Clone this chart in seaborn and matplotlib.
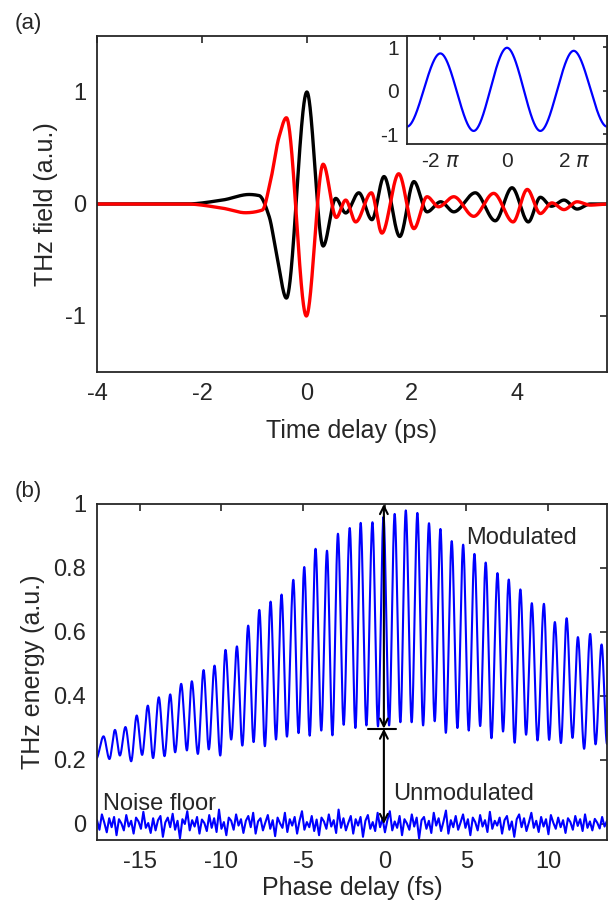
import numpy as np
import pandas as pd
import seaborn as sns
from matplotlib import pyplot as plt

sns.set_style("white")
plt.rcParams['font.family'] = ['Liberation Sans', 'DejaVu Sans']
plt.rcParams['axes.unicode_minus'] = False

FS = 17        # tick size
LFS = 18       # axis label size
GRAY = '#262626'

# ---- panel (a): THz field waveforms, extrema (ps, a.u.)
black_t = [-4.0, -2.3, -1.6, -1.1, -0.91, -0.72, -0.57, -0.39, 0.0, 0.31, 0.55, 0.74,
           0.99, 1.24, 1.47, 1.77, 2.04, 2.29, 2.55, 2.80, 3.21, 3.59, 3.91, 4.22,
           4.45, 4.66, 4.90, 5.15, 5.40, 5.72]
black_v = [0.0, 0.0, 0.036, 0.085, 0.075, -0.11, -0.47, -0.84, 1.0, -0.375, 0.05, -0.08,
           0.10, -0.14, 0.245, -0.29, 0.20, -0.07, 0.02, -0.07, 0.10, -0.15, 0.145, -0.16,
           0.06, -0.02, 0.035, -0.045, 0.0, 0.0]

red_t = [-4.0, -2.3, -1.6, -1.17, -0.85, -0.69, -0.53, -0.39, -0.01, 0.31, 0.56, 0.74,
         0.93, 1.23, 1.43, 1.75, 2.04, 2.29, 2.51, 2.80, 3.18, 3.56, 3.93, 4.20,
         4.45, 4.67, 4.90, 5.15, 5.40, 5.72]
red_v = [0.0, 0.0, -0.038, -0.078, -0.054, 0.214, 0.60, 0.77, -1.0, 0.355, -0.12, 0.035,
         -0.16, 0.10, -0.26, 0.27, -0.22, 0.065, -0.025, 0.065, -0.11, 0.095, -0.16, 0.13,
         -0.085, 0.01, -0.05, 0.02, -0.01, 0.0]

# inset: extrema, x in units of pi
inset_x = [-3, -2, -1, 0, 1, 2, 3]
inset_y = [-0.82, 0.86, -0.92, 0.99, -0.92, 0.92, -0.82]

# ---- panel (b): modulated THz energy, peaks and troughs (fs, a.u.)
peak_t = [-17.2, -16.5, -15.86, -15.17, -14.49, -13.82, -13.12, -12.45, -11.8, -11.08,
          -10.41, -9.74, -9.04, -8.35, -7.67, -6.98, -6.31, -5.59, -4.92, -4.23,
          -3.53, -2.86, -2.14, -1.47, -0.75, -0.07, 0.61, 1.29, 2.0, 2.71,
          3.41, 4.1, 4.8, 5.49, 6.18, 6.9, 7.59, 8.3, 9.0, 9.74,
          10.41, 11.13, 11.82, 12.57, 13.27]
peak_v = [0.274, 0.294, 0.303, 0.339, 0.370, 0.396, 0.405, 0.438, 0.446, 0.481,
          0.495, 0.544, 0.555, 0.62, 0.669, 0.695, 0.717, 0.763, 0.803, 0.86,
          0.854, 0.907, 0.925, 0.941, 0.943, 0.96, 0.969, 0.98, 0.972, 0.94,
          0.922, 0.884, 0.873, 0.844, 0.817, 0.784, 0.764, 0.733, 0.69, 0.688,
          0.631, 0.643, 0.584, 0.594, 0.561]
trough_t = [-17.65, -16.84, -16.2, -15.51, -14.84, -14.17, -13.47, -12.82, -12.1, -11.43,
            -10.76, -10.06, -9.39, -8.71, -8.02, -7.33, -6.65, -5.98, -5.27, -4.59,
            -3.88, -3.2, -2.51, -1.79, -1.12, -0.41, 0.27, 0.96, 1.65, 2.35,
            3.06, 3.74, 4.45, 5.14, 5.84, 6.53, 7.24, 7.95, 8.65, 9.35,
            10.06, 10.78, 11.49, 12.2, 12.9, 13.6]
trough_v = [0.204, 0.203, 0.214, 0.196, 0.216, 0.206, 0.212, 0.224, 0.23, 0.219,
            0.233, 0.214, 0.264, 0.245, 0.256, 0.243, 0.264, 0.273, 0.284, 0.276,
            0.292, 0.277, 0.31, 0.30, 0.308, 0.305, 0.308, 0.318, 0.318, 0.308,
            0.321, 0.285, 0.30, 0.292, 0.306, 0.268, 0.289, 0.254, 0.279, 0.261,
            0.263, 0.253, 0.269, 0.235, 0.249, 0.25]

noise_v = [
    0.012, -0.018, 0.030, 0.004, -0.026, 0.018, -0.010, 0.022, -0.035, 0.015, 0.002, -0.020, 0.028, -0.008, 0.010,
    -0.030, 0.020, 0.008, -0.015, 0.038, -0.012, 0.003, -0.028, 0.018, -0.020, 0.012, 0.025, -0.040, 0.005, 0.020,
    -0.010, 0.032, -0.018, 0.010, -0.045, 0.015, 0.000, 0.040, -0.020, 0.012, -0.008, 0.022, -0.030, 0.014, 0.003,
    -0.022, 0.028, -0.012, 0.018, -0.025, 0.045, -0.015, 0.006, -0.035, 0.020, 0.010, -0.018, 0.030, -0.005, 0.015,
    -0.028, 0.010, 0.025, -0.010, 0.035, -0.030, 0.008, 0.018, -0.020, 0.005, 0.028, -0.015, 0.012, -0.038, 0.020,
    0.002, -0.012, 0.035, -0.025, 0.015, -0.005, 0.022, -0.030, 0.010, 0.040, -0.018, 0.006, -0.010, 0.025, -0.022,
    0.014, -0.035, 0.020, 0.008, -0.015, 0.030, -0.008, 0.012, -0.028, 0.045, -0.012, 0.018, -0.020, 0.004, 0.025,
    -0.030, 0.015, -0.005, 0.022, -0.040, 0.010, 0.028, -0.015, 0.006, -0.022, 0.035, -0.010, 0.018, -0.026, 0.012,
    0.040, -0.020, 0.008, -0.012, 0.025, -0.035, 0.015, 0.002, -0.018, 0.030, -0.008, 0.020, -0.045, 0.012, 0.022,
    -0.015, 0.010, -0.028, 0.035, -0.005, 0.018, -0.022, 0.008, 0.042, -0.030, 0.012, -0.010, 0.025, -0.018, 0.005,
    0.030, -0.012, 0.015, -0.035, 0.020, 0.006, -0.020, 0.028, -0.008, 0.012, -0.025, 0.038, -0.015, 0.010, -0.005,
    0.020, -0.030, 0.012, 0.025, -0.018, 0.008, -0.040, 0.015, 0.030, -0.010, 0.018, -0.022, 0.005, 0.035, -0.012,
    0.010, -0.025, 0.022, -0.008, 0.015, -0.032, 0.028, 0.004, -0.015, 0.020, -0.010, 0.012, -0.028, 0.018, 0.006,
    -0.018, 0.025, -0.006, 0.015, -0.022, 0.030, -0.012, 0.008, -0.020, 0.016, 0.004, -0.014, 0.022, -0.008, 0.010,
]


def pchip(xk, yk, n=3000):
    # monotone cubic through the read points, just to draw a smooth line
    xk = np.asarray(xk, float); yk = np.asarray(yk, float)
    h = np.diff(xk); d = np.diff(yk) / h
    m = np.zeros_like(yk)
    for i in range(1, len(xk) - 1):
        if d[i - 1] * d[i] > 0:
            w1 = 2 * h[i] + h[i - 1]; w2 = h[i] + 2 * h[i - 1]
            m[i] = (w1 + w2) / (w1 / d[i - 1] + w2 / d[i])
    x = np.linspace(xk[0], xk[-1], n)
    k = np.clip(np.searchsorted(xk, x) - 1, 0, len(h) - 1)
    s = (x - xk[k]) / h[k]
    h00 = 2 * s**3 - 3 * s**2 + 1; h10 = s**3 - 2 * s**2 + s
    h01 = -2 * s**3 + 3 * s**2; h11 = s**3 - s**2
    y = h00 * yk[k] + h10 * h[k] * m[k] + h01 * yk[k + 1] + h11 * h[k] * m[k + 1]
    return x, y


def style(ax, fs=FS, pad=8):
    for sp in ax.spines.values():
        sp.set_visible(True); sp.set_color(GRAY); sp.set_linewidth(1.3)
    ax.tick_params(direction='in', top=True, right=True, length=5, width=1.2,
                   labelsize=fs, colors=GRAY, labelcolor=GRAY, pad=pad)


fig = plt.figure(figsize=(6.13, 9.09), dpi=100)

# ---------------- panel (a)
ax1 = fig.add_axes([97 / 613, 1 - 372 / 909, 510 / 613, 336 / 909])
bx, by = pchip(black_t, black_v)
rx, ry = pchip(red_t, red_v)
sns.lineplot(x=bx, y=by, ax=ax1, color='black', lw=2.4)
sns.lineplot(x=rx, y=ry, ax=ax1, color='red', lw=2.4)
ax1.set_xlim(-4, 5.72)
ax1.set_ylim(-1.5, 1.5)
ax1.set_xticks([-4, -2, 0, 2, 4])
ax1.set_yticks([-1, 0, 1])
style(ax1)
ax1.set_xlabel('Time delay (ps)', fontsize=LFS, labelpad=10)
ax1.set_ylabel('THz field (a.u.)', fontsize=LFS, labelpad=5)

# inset
axi = fig.add_axes([407 / 613, 1 - 144 / 909, 200 / 613, 108 / 909])
ix, iy = pchip(inset_x, inset_y)
sns.lineplot(x=ix, y=iy, ax=axi, color='blue', lw=1.6)
axi.set_xlim(-3, 3)
axi.set_ylim(-1.22, 1.26)
axi.set_xticks([-2, -1, 0, 1, 2])
axi.set_xticklabels(['-2 $\\pi$', '', '0', '', '2 $\\pi$'])
axi.set_yticks([-1, 0, 1])
style(axi, fs=15, pad=6)
axi.tick_params(length=3)

# ---------------- panel (b)
ax2 = fig.add_axes([97 / 613, 1 - 840 / 909, 510 / 613, 336 / 909])
ext = sorted(zip(peak_t + trough_t, peak_v + trough_v))
mx, my = pchip([e[0] for e in ext], [e[1] for e in ext], n=6000)
sns.lineplot(x=mx, y=my, ax=ax2, color='blue', lw=1.5)
nx = np.linspace(-17.6, 13.6, len(noise_v))
sns.lineplot(x=nx, y=noise_v, ax=ax2, color='blue', lw=1.5)
ax2.set_xlim(-17.6, 13.6)
ax2.set_ylim(-0.05, 1.0)
ax2.set_xticks([-15, -10, -5, 0, 5, 10])
ax2.set_yticks([0, 0.2, 0.4, 0.6, 0.8, 1])
ax2.set_yticklabels(['0', '0.2', '0.4', '0.6', '0.8', '1'])
style(ax2)
ax2.set_xlabel('Phase delay (fs)', fontsize=LFS, labelpad=2)
ax2.set_ylabel('THz energy (a.u.)', fontsize=LFS, labelpad=6)

arr = dict(arrowstyle='<->', color='black', lw=1.5, shrinkA=0, shrinkB=0,
           mutation_scale=14)
ax2.annotate('', xy=(-0.05, 1.0), xytext=(-0.05, 0.298), arrowprops=arr)
ax2.annotate('', xy=(-0.05, 0.298), xytext=(-0.05, 0.0), arrowprops=arr)
ax2.plot([-1.0, 0.7], [0.298, 0.298], color='black', lw=1.5)
ax2.text(5.0, 0.895, 'Modulated', fontsize=FS, va='center', ha='left')
ax2.text(0.5, 0.094, 'Unmodulated', fontsize=FS, va='center', ha='left')
ax2.text(-17.25, 0.063, 'Noise floor', fontsize=FS, va='center', ha='left')

fig.text(28 / 613, 1 - 23 / 909, '(a)', fontsize=16, ha='center', va='center')
fig.text(28 / 613, 1 - 491 / 909, '(b)', fontsize=16, ha='center', va='center')

fig.savefig('out.png', dpi=100)
